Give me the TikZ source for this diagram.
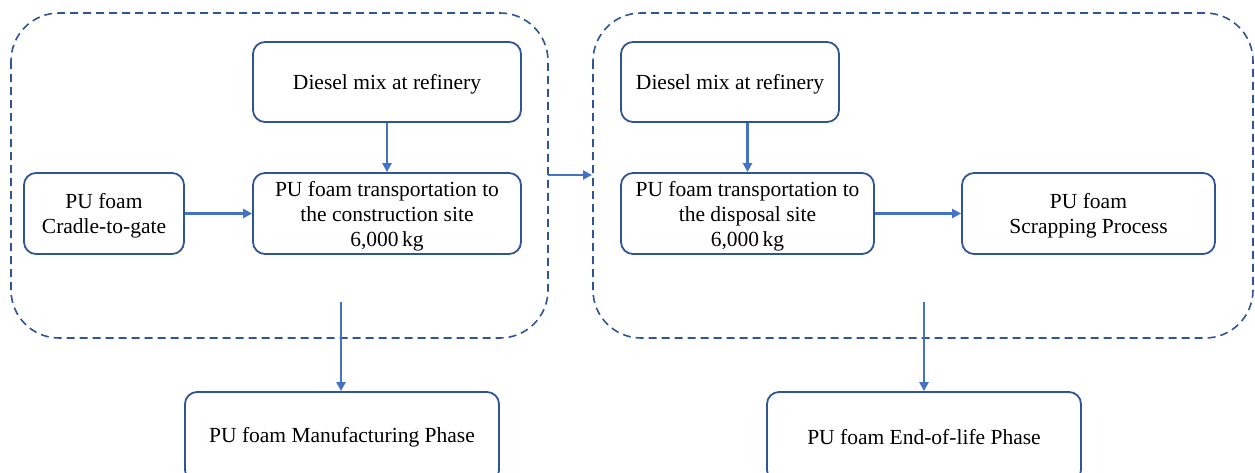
\documentclass[tikz,border=0pt]{standalone}
\usepackage{fontspec}
\setmainfont{Liberation Serif}
\usetikzlibrary{arrows.meta}
\definecolor{boxblue}{HTML}{2F5597}
\definecolor{arrblue}{HTML}{4472C4}
\newcommand{\tx}[1]{\raisebox{0pt}[\dimexpr\height+5pt\relax][\depth]{\begin{tabular}{@{}c@{}}#1\end{tabular}}}
\begin{document}
\begin{tikzpicture}[x=1pt,y=-1pt,
  box/.style={draw=boxblue,line width=1.8pt,rounded corners=12pt,align=center,
    font=\fontsize{21.5}{25}\selectfont,inner sep=0pt},
  grp/.style={draw=boxblue,line width=1.6pt,dash pattern=on 8pt off 5pt,rounded corners=48pt},
  arr/.style={draw=arrblue,line width=2.4pt,-{Triangle[length=9pt,width=9pt]}}]
\useasboundingbox (0,0) rectangle (1255,472);
\begin{scope}
\clip (0,0) rectangle (1255,472);
% groups
\draw[grp] (11,13) rectangle (548,338);
\draw[grp] (593,13) rectangle (1253,338);
% left boxes
\node[box,minimum width=268pt,minimum height=80pt] (dl) at (387,82) {\tx{Diesel mix at refinery}};
\node[box,minimum width=268pt,minimum height=81pt] (tl) at (387,213.5) {\tx{PU foam transportation to\\the construction site\\6,000\,kg}};
\node[box,minimum width=160pt,minimum height=81pt] (cg) at (104,213.5) {\tx{PU foam\\Cradle-to-gate}};
\node[box,minimum width=314pt,minimum height=90pt] (mp) at (342,437) {PU foam Manufacturing Phase};
% right boxes
\node[box,minimum width=218pt,minimum height=80pt] (dr) at (730,82) {\tx{Diesel mix at refinery}};
\node[box,minimum width=253pt,minimum height=81pt] (tr) at (747.5,213.5) {\tx{PU foam transportation to\\the disposal site\\6,000\,kg}};
\node[box,minimum width=253pt,minimum height=81pt] (sp) at (1088.5,213.5) {\tx{PU foam\\Scrapping Process}};
\node[box,minimum width=314pt,minimum height=90pt] (ep) at (924,437) {PU foam End-of-life Phase};
% connectors
\coordinate (g1) at (548,175);
\coordinate (g2) at (592,175);
\coordinate (d1) at (341,302);
\coordinate (d2) at (924,302);
\draw[arr] (dl.south) -- (tl.north);
\draw[arr] (cg.east) -- (tl.west);
\draw[arr] (g1) -- (g2);
\draw[arr] (d1) -- (d1 |- mp.north);
\draw[arr] (dr.south -| tr.north) -- (tr.north);
\draw[arr] (tr.east) -- (sp.west);
\draw[arr] (d2) -- (d2 |- ep.north);
\end{scope}
\end{tikzpicture}
\end{document}
